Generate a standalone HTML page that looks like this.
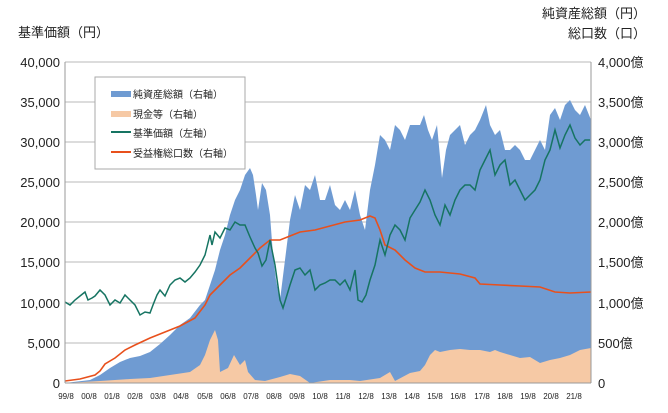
<!DOCTYPE html>
<html><head><meta charset="utf-8"><style>
body{margin:0;background:#fff;}
svg text{font-family:"Liberation Sans","Noto Sans CJK JP",sans-serif;}
</style></head><body>
<svg width="668" height="408" xmlns="http://www.w3.org/2000/svg">
<g stroke="#c8c8c8" stroke-width="1.2">
<line x1="65" y1="62" x2="591" y2="62"/><line x1="65" y1="102" x2="591" y2="102"/>
<line x1="65" y1="142" x2="591" y2="142"/><line x1="65" y1="182" x2="591" y2="182"/>
<line x1="65" y1="222" x2="591" y2="222"/><line x1="65" y1="262" x2="591" y2="262"/>
<line x1="65" y1="303" x2="591" y2="303"/><line x1="65" y1="343" x2="591" y2="343"/>
</g>
<polygon fill="#6f9bd2" points="65,383 90,380 100,375 110,368 120,362 130,358 140,356 150,352 160,344 170,335 180,325 190,318 200,305 205,300 210,285 215,270 220,250 225,235 230,215 235,200 240,190 245,175 250,168 253,175 256,195 258,210 262,183 266,190 270,215 273,255 276,280 280,300 285,260 290,220 295,195 300,210 305,185 310,190 315,175 320,200 325,200 330,185 335,205 340,210 345,200 350,210 355,190 360,215 365,230 370,190 375,165 380,135 385,140 390,150 395,125 400,130 405,140 410,125 415,125 420,125 424,115 428,130 432,140 437,125 442,178 446,150 450,135 455,130 460,125 465,145 470,135 475,130 480,120 486,105 490,125 495,135 500,130 505,150 510,150 515,145 520,150 525,160 530,160 535,150 540,140 545,150 550,115 555,108 560,120 565,105 570,100 575,110 580,115 585,105 591,120 591,383"/>
<polygon fill="#f6c9a5" points="65,383 100,381 130,379 150,378 170,375 190,372 200,365 205,355 210,340 215,330 218,340 220,372 228,368 234,355 240,365 245,360 248,372 255,380 265,381 280,377 290,374 300,376 310,383 330,380 350,380 360,381 380,378 390,372 395,381 410,373 420,371 425,365 430,355 435,350 440,352 450,350 460,349 470,350 480,350 490,352 495,350 500,352 510,355 520,358 530,357 540,363 550,360 560,358 570,355 580,350 591,348 591,383"/>
<polyline fill="none" stroke="#e8501c" stroke-width="1.6" points="65,381 80,379 95,375 100,371 105,364 115,358 125,350 135,345 150,338 165,332 180,326 195,318 205,305 210,295 220,285 230,275 240,268 250,258 260,248 270,240 280,240 290,236 300,232 315,230 330,226 345,222 360,220 370,216 375,218 380,230 385,245 395,250 405,260 415,268 425,272 440,272 460,274 475,278 480,284 500,285 520,286 540,287 555,292 570,293 591,292"/>
<polyline fill="none" stroke="#167462" stroke-width="1.5" points="65,302 70,305 75,300 80,296 85,292 88,300 92,298 95,296 100,290 105,295 110,305 115,300 120,303 125,295 130,300 135,305 140,315 145,312 150,313 153,305 157,295 160,290 165,296 170,285 175,280 180,278 185,282 190,278 195,272 200,265 205,255 210,235 212,245 215,232 220,238 225,228 230,230 235,222 240,225 245,225 250,237 255,248 258,253 262,266 266,260 268,250 270,240 275,265 280,300 283,308 287,295 290,285 295,270 300,268 305,275 310,270 315,290 320,285 325,283 330,280 335,280 340,285 345,280 350,290 355,270 358,300 362,302 366,295 370,280 375,265 380,240 385,255 390,235 395,225 400,230 405,240 410,218 415,210 420,202 425,190 430,200 435,215 440,225 445,205 450,215 455,200 460,190 465,185 470,185 475,190 480,170 485,160 490,150 495,175 500,165 505,160 510,185 515,180 520,190 525,200 530,195 535,190 540,180 545,160 550,150 555,130 560,148 565,135 570,125 575,138 580,145 585,140 590,140"/>
<g stroke="#999" stroke-width="1"><line x1="65" y1="62" x2="65" y2="383"/><line x1="591" y1="62" x2="591" y2="383"/><line x1="65" y1="383" x2="591" y2="383"/></g>
<g font-size="13" fill="#222" text-anchor="end">
<text x="60" y="67">40,000</text><text x="60" y="107">35,000</text><text x="60" y="147">30,000</text><text x="60" y="187">25,000</text><text x="60" y="227">20,000</text><text x="60" y="267">15,000</text><text x="60" y="308">10,000</text><text x="60" y="348">5,000</text><text x="60" y="388">0</text>
</g>
<g font-size="13" fill="#222">
<text x="598" y="67">4,000億</text><text x="598" y="107">3,500億</text><text x="598" y="147">3,000億</text><text x="598" y="187">2,500億</text><text x="598" y="227">2,000億</text><text x="598" y="267">1,500億</text><text x="598" y="308">1,000億</text><text x="598" y="348">500億</text><text x="598" y="388">0</text>
<text x="18" y="37">基準価額（円）</text>
<text x="646" y="18" text-anchor="end">純資産総額（円）</text>
<text x="646" y="38" text-anchor="end">総口数（口）</text>
</g>
<g font-size="8" fill="#222" text-anchor="middle">
<text x="66" y="399">99/8</text><text x="89" y="399">00/8</text><text x="112" y="399">01/8</text><text x="135" y="399">02/8</text><text x="158" y="399">03/8</text><text x="181" y="399">04/8</text><text x="205" y="399">05/8</text><text x="228" y="399">06/8</text><text x="251" y="399">07/8</text><text x="274" y="399">08/8</text><text x="297" y="399">09/8</text><text x="320" y="399">10/8</text><text x="343" y="399">11/8</text><text x="366" y="399">12/8</text><text x="389" y="399">13/8</text><text x="412" y="399">14/8</text><text x="435" y="399">15/8</text><text x="458" y="399">16/8</text><text x="482" y="399">17/8</text><text x="505" y="399">18/8</text><text x="528" y="399">19/8</text><text x="551" y="399">20/8</text><text x="574" y="399">21/8</text>
</g>
<rect x="95" y="77" width="150" height="92" fill="#fff" stroke="#aaa"/>
<rect x="111" y="91" width="20" height="6" fill="#6f9bd2"/>
<rect x="111" y="111" width="20" height="6" fill="#f6c9a5"/>
<line x1="111" y1="132" x2="131" y2="132" stroke="#167462" stroke-width="2"/>
<line x1="111" y1="152" x2="131" y2="152" stroke="#e8501c" stroke-width="2"/>
<g font-size="10" fill="#222">
<text x="133" y="98">純資産総額（右軸）</text><text x="133" y="118">現金等（右軸）</text><text x="133" y="137">基準価額（左軸）</text><text x="133" y="157">受益権総口数（右軸）</text>
</g>
</svg>
</body></html>
